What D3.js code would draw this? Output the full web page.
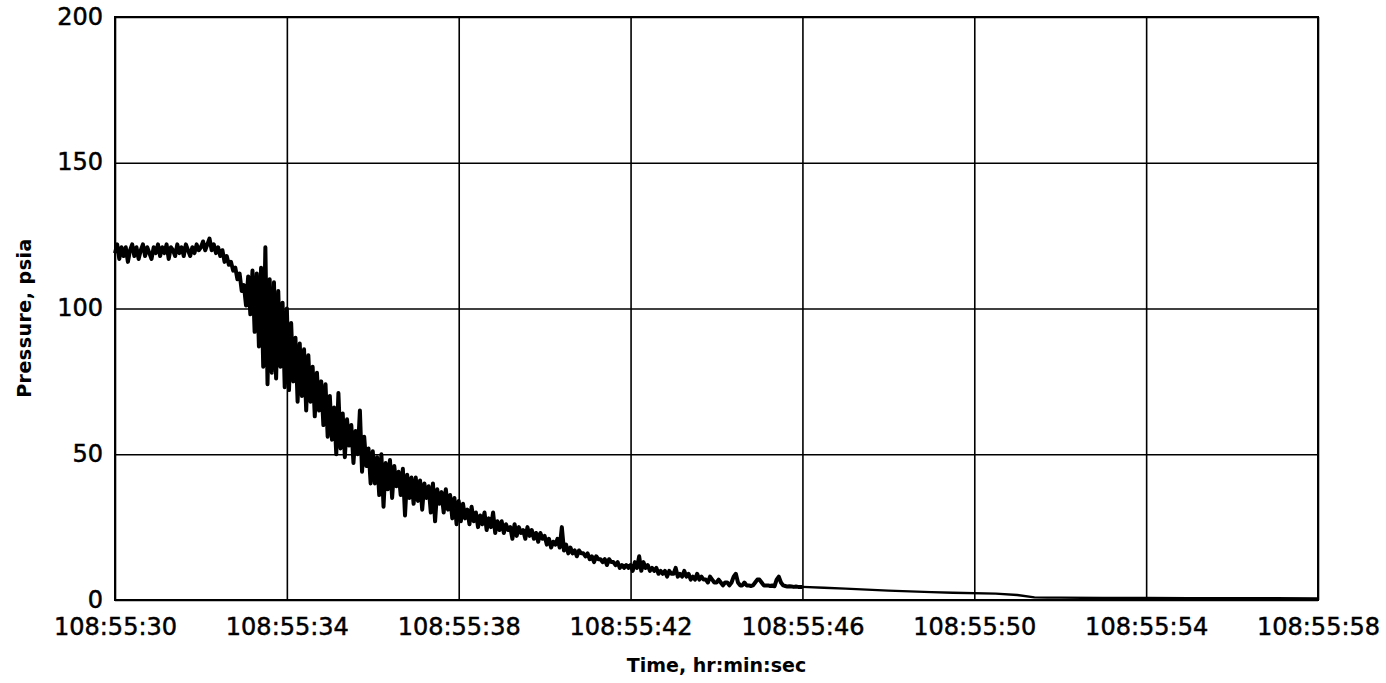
<!DOCTYPE html>
<html>
<head>
<meta charset="utf-8">
<script src="https://cdn.jsdelivr.net/npm/d3@7"></script>
<style>
  body { margin: 0; background: #fff; }
</style>
</head>
<body>
<div id="chart"></div>
<script>
// samples every 0.05 s, from 108:55:30.00 to 108:55:46.00
var sampleStart = 30, sampleStep = 0.05;
var pressure = [
  119,122,117,121,118,121,116,120,122,118,121,117,120,122,118,121,119,117,121,119,
  122,118,121,119,122,117,121,120,118,122,119,121,118,122,120,118,121,119,122,120,
  121,123,120,122,124,120,122,119,121,118,120,116,118,115,116,113,114,110,112,106,
  108,101,111,98,113,92,112,87,114,80,121,74,110,78,109,76,106,80,102,73,
  100,72,95,75,90,68,88,70,86,65,84,68,80,63,78,65,75,60,74,56,
  70,55,66,50,71,52,64,49,62,53,60,47,58,50,65,44,56,46,52,40,
  51,40,49,36,50,32,47,38,48,35,46,39,44,36,45,29,43,35,42,33,
  42,34,41,31,40,35,39,30,40,27,38,33,37,30,38,31,36,28,35,26,
  34,27,33,28,31,26,32,27,30,25,29,26,30,24,28,25,30,23,27,24,
  27,23,26,24,25,21,26,22,25,23,24,21,25,22,24,21,23,20,23,21,
  22,19,21,18,20,19,21,18,25,17,19,16,18,16,17,15,17,16,16,15,
  16,14,15,13,15,14,14,13,14,12,14,13,13,12,13,11,12,11,12,11,
  12,10,13,11,15,10,13,11,12,10,11,10,11,9,10,9,10,8,10,9,
  9,11,8,9,8,10,8,9,7,8,7,9,7,8,7,7,6,8,7,6,
  6,7,6,5,6,6,5,6,8,9,6,5,5,6,5,5,4.8,5,6,7,
  7,6,5,5,5,4.8,5,4.7,7,8,6,5,4.8,4.6,4.7,4.6,4.5,4.6,4.5,4.5,
  4.5
];
var tailTimes  = [46.5, 47, 48, 49, 49.5, 50.5, 51, 51.4, 51.7, 52, 53, 54, 55, 56, 57, 58];
var tailValues = [4.2, 3.9, 3.2, 2.7, 2.5, 2.2, 1.7, 0.9, 0.8, 0.8, 0.7, 0.7, 0.6, 0.6, 0.6, 0.5];

var yTicks = [0, 50, 100, 150, 200];
var xTicks = [30, 34, 38, 42, 46, 50, 54, 58];
var xTickLabels = ["108:55:30", "108:55:34", "108:55:38", "108:55:42",
                   "108:55:46", "108:55:50", "108:55:54", "108:55:58"];

var W = 1386, H = 683;
var margin = {left: 115, right: 68, top: 17, bottom: 83};
var width = W - margin.left - margin.right,
    height = H - margin.top - margin.bottom;

var svg = d3.select("#chart").append("svg")
  .attr("width", W)
  .attr("height", H);

var chart = svg.append("g")
  .attr("transform", "translate(" + margin.left + "," + margin.top + ")");

var x = d3.scaleLinear().domain([30, 58]).range([0, width]);
var y = d3.scaleLinear().domain([0, 200]).range([height, 0]);

var noisy = pressure.map(function(v, i) {
  return {t: sampleStart + i * sampleStep, p: v};
});
var tail = [noisy[noisy.length - 1]].concat(tailTimes.map(function(t, i) {
  return {t: t, p: tailValues[i]};
}));

// grid + tick labels
var yAxis = chart.append("g")
  .call(d3.axisLeft(y).tickValues(yTicks).tickSize(-width).tickPadding(12));
var xAxis = chart.append("g")
  .attr("transform", "translate(0," + height + ")")
  .call(d3.axisBottom(x).tickValues(xTicks).tickSize(-height).tickPadding(18)
    .tickFormat(function(d, i) { return xTickLabels[i]; }));

[yAxis, xAxis].forEach(function(ax) {
  ax.select(".domain").remove();
  ax.selectAll(".tick line")
    .attr("stroke", "#000")
    .attr("stroke-width", 1.6);
  ax.selectAll(".tick text")
    .attr("font-family", "DejaVu Sans, sans-serif")
    .attr("font-size", "24px")
    .attr("fill", "#000")
    .attr("stroke", "#000")
    .attr("stroke-width", 0.5);
});
yAxis.selectAll(".tick text").attr("dy", "0.3em");

// frame
chart.append("rect")
  .attr("x", 0).attr("y", 0)
  .attr("width", width).attr("height", height)
  .attr("fill", "none")
  .attr("stroke", "#000")
  .attr("stroke-width", 2);

// pressure trace
var line = d3.line()
  .x(function(d) { return x(d.t); })
  .y(function(d) { return y(d.p); });

chart.append("path")
  .datum(noisy)
  .attr("fill", "none")
  .attr("stroke", "#000")
  .attr("stroke-width", 4)
  .attr("stroke-linejoin", "round")
  .attr("d", line);

chart.append("path")
  .datum(tail)
  .attr("fill", "none")
  .attr("stroke", "#000")
  .attr("stroke-width", 2.4)
  .attr("stroke-linejoin", "round")
  .attr("d", line);

// axis titles
svg.append("text")
  .attr("x", margin.left + width / 2)
  .attr("y", 672)
  .attr("text-anchor", "middle")
  .attr("font-family", "DejaVu Sans, sans-serif")
  .attr("font-weight", "bold")
  .attr("font-size", "19px")
  .text("Time, hr:min:sec");

svg.append("text")
  .attr("transform", "translate(31,318) rotate(-90)")
  .attr("text-anchor", "middle")
  .attr("font-family", "DejaVu Sans, sans-serif")
  .attr("font-weight", "bold")
  .attr("font-size", "19px")
  .attr("letter-spacing", "0.5px")
  .text("Pressure, psia");
</script>
</body>
</html>
